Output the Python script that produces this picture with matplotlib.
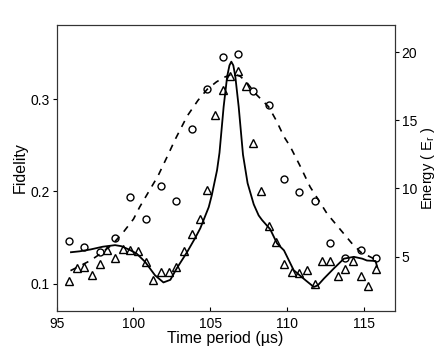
import matplotlib.pyplot as plt

plt.rcParams['font.family'] = ['Liberation Sans', 'DejaVu Sans']

# measured data: circles every 1 us, triangles every 0.5 us
t_circ = [95.8, 96.8, 97.8, 98.8, 99.8, 100.8, 101.8, 102.8, 103.8, 104.8, 105.8,
          106.8, 107.8, 108.8, 109.8, 110.8, 111.8, 112.8, 113.8, 114.8, 115.8]
f_circ = [0.146, 0.140, 0.134, 0.150, 0.194, 0.170, 0.206, 0.190, 0.268, 0.311, 0.346,
          0.349, 0.309, 0.294, 0.214, 0.199, 0.190, 0.144, 0.128, 0.136, 0.128]

t_tri = [95.8, 96.3, 96.8, 97.3, 97.8, 98.3, 98.8, 99.3, 99.8, 100.3, 100.8, 101.3,
         101.8, 102.3, 102.8, 103.3, 103.8, 104.3, 104.8, 105.3, 105.8, 106.3, 106.8,
         107.3, 107.8, 108.3, 108.8, 109.3, 109.8, 110.3, 110.8, 111.3, 111.8, 112.3,
         112.8, 113.3, 113.8, 114.3, 114.8, 115.3, 115.8]
f_tri = [0.1025, 0.117, 0.118, 0.109, 0.121, 0.136, 0.128, 0.137, 0.136, 0.135, 0.123,
         0.104, 0.112, 0.113, 0.118, 0.135, 0.154, 0.170, 0.2015, 0.283, 0.310, 0.325,
         0.331, 0.315, 0.253, 0.200, 0.163, 0.145, 0.121, 0.113, 0.1115, 0.1145, 0.099,
         0.124, 0.125, 0.108, 0.116, 0.125, 0.108, 0.097, 0.116]

# dashed curve
t_dash = [95.9, 96.5, 97.2, 97.9, 98.6, 99.35, 100.0, 100.4, 101.0, 101.6, 102.2, 102.7,
          103.5, 104.2, 104.8, 105.4, 105.9, 106.5, 106.96, 107.4, 107.9, 108.8, 109.3,
          109.8, 110.2, 110.87, 111.5, 112.0, 112.6, 113.2, 113.7, 114.2, 114.8, 115.65]
f_dash = [0.114, 0.119, 0.125, 0.133, 0.142, 0.156, 0.170, 0.183, 0.200, 0.217, 0.238, 0.256,
          0.282, 0.299, 0.311, 0.319, 0.324, 0.328, 0.325, 0.318, 0.307, 0.292, 0.277,
          0.2595, 0.249, 0.227, 0.205, 0.192, 0.176, 0.164, 0.154, 0.144, 0.134, 0.127]

# solid curve
t_sol = [95.93, 96.5, 97.2, 98.0, 98.8, 99.2, 99.7, 100.2, 100.76, 101.4, 101.95, 102.4,
         102.8, 103.5, 104.0, 104.35, 104.9, 105.1, 105.44, 105.6, 105.87, 106.1, 106.25,
         106.37, 106.5, 106.63, 106.85, 107.13, 107.43, 107.83, 108.15, 108.37,
         108.9, 109.35, 109.8, 110.43, 111.2, 111.74, 112.0, 112.4, 113.04, 113.7,
         114.35, 114.9, 115.2, 115.76, 115.87]
f_sol = [0.134, 0.135, 0.137, 0.140, 0.1417, 0.1406, 0.137, 0.1326, 0.1235, 0.109, 0.1012, 0.104,
         0.116, 0.1344, 0.149, 0.160, 0.183, 0.196, 0.223, 0.242, 0.292, 0.325, 0.337,
         0.341, 0.337, 0.325, 0.292, 0.240, 0.209, 0.186, 0.174, 0.169,
         0.159, 0.1435, 0.136, 0.1145, 0.1036, 0.0963, 0.098, 0.1054, 0.1163, 0.127,
         0.129, 0.127, 0.125, 0.1245, 0.118]

x_ticks = [95, 100, 105, 110, 115]
f_ticks = [0.1, 0.2, 0.3]
e_ticks = [5, 10, 15, 20]

fig = plt.figure(figsize=(4.36, 3.5), dpi=100)
ax = fig.add_axes([0.130, 0.111, 0.775, 0.818])

ax.plot(t_dash, f_dash, '--', color='black', lw=1.2, dashes=(4, 4))
ax.plot(t_sol, f_sol, '-', color='black', lw=1.3)
ax.plot(t_circ, f_circ, 'o', mfc='none', mec='black', ms=5, mew=1.0)
ax.plot(t_tri, f_tri, '^', mfc='none', mec='black', ms=5.5, mew=1.0)

ax.set_xlim(95, 117)
ax.set_ylim(0.07, 0.381)
ax.set_xticks(x_ticks)
ax.set_yticks(f_ticks)
ax.set_yticklabels(['0.1', '0.2', '0.3'])
ax.tick_params(axis='x', direction='in', length=3, labelsize=10, pad=4)
ax.tick_params(axis='y', direction='out', length=3, labelsize=10, pad=2)
ax.set_xlabel('Time period (\u00b5s)', fontsize=11.5, labelpad=0)
ax.set_ylabel('Fidelity', fontsize=11.5, labelpad=2)

ax2 = ax.twinx()
ax2.set_ylim(1.0, 22.0)
ax2.set_yticks(e_ticks)
ax2.tick_params(axis='y', direction='out', length=3, labelsize=10, pad=2)
ax2.set_ylabel('Energy ( E$_\\mathregular{r}$ )', fontsize=10.5, labelpad=1)

for a in (ax, ax2):
    for s in a.spines.values():
        s.set_linewidth(0.8)
        s.set_color('#333333')

fig.savefig('out.png', dpi=100)
